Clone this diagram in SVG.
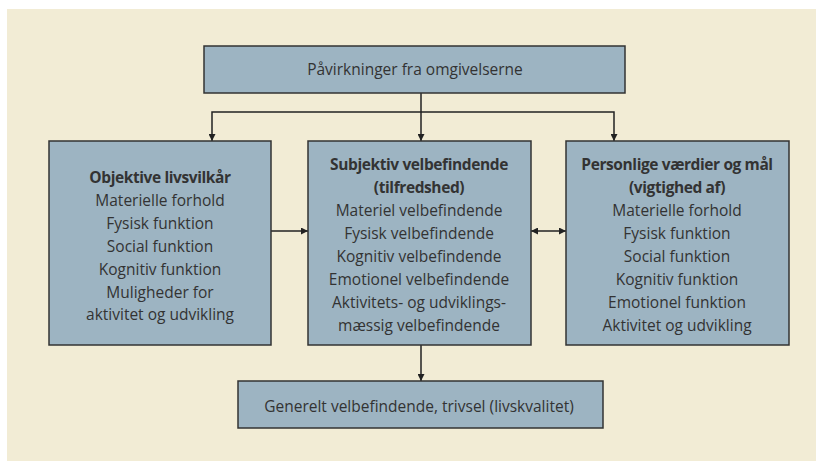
<svg xmlns="http://www.w3.org/2000/svg" width="816" height="461" viewBox="0 0 816 461">
<defs>
<style>
.box{fill:#9db4c2;stroke:#333;stroke-width:1.5}
.t{font-family:"Open Sans","Liberation Sans",sans-serif;font-size:15.5px;fill:#333;text-anchor:middle}
.b{font-weight:bold;letter-spacing:-0.4px}
.c{fill:none;stroke:#222;stroke-width:1.5}
</style>
<marker id="ah" viewBox="0 0 10 10" refX="10" refY="5" markerWidth="7" markerHeight="7" markerUnits="userSpaceOnUse" orient="auto-start-reverse">
<path d="M0,0 L10,5 L0,10 z" fill="#222"/>
</marker>
</defs>
<rect x="7" y="9" width="809" height="452" fill="#f2ecd5"/>
<g id="connectors">
<line class="c" x1="421" y1="93" x2="421" y2="141" marker-end="url(#ah)"/>
<polyline class="c" points="212,141 212,112 614,112 614,141" marker-start="url(#ah)" marker-end="url(#ah)"/>
<line class="c" x1="271" y1="231" x2="308" y2="231" marker-end="url(#ah)"/>
<line class="c" x1="531" y1="231" x2="566" y2="231" marker-start="url(#ah)" marker-end="url(#ah)"/>
<line class="c" x1="421" y1="345" x2="421" y2="381" marker-end="url(#ah)"/>
</g>
<g id="top">
<rect class="box" x="204" y="46" width="421" height="47"/>
<text class="t" x="415" y="75">Påvirkninger fra omgivelserne</text>
</g>
<g id="objektive">
<rect class="box" x="49" y="141" width="222" height="204"/>
<text class="t" x="160" y="183"><tspan class="b">Objektive livsvilkår</tspan><tspan x="160" dy="23">Materielle forhold</tspan><tspan x="160" dy="23">Fysisk funktion</tspan><tspan x="160" dy="23">Social funktion</tspan><tspan x="160" dy="23">Kognitiv funktion</tspan><tspan x="160" dy="23">Muligheder for</tspan><tspan x="160" dy="22">aktivitet og udvikling</tspan></text>
</g>
<g id="subjektiv">
<rect class="box" x="308" y="141" width="223" height="204"/>
<text class="t" x="419" y="170"><tspan class="b">Subjektiv velbefindende</tspan><tspan class="b" x="419" dy="23">(tilfredshed)</tspan><tspan x="419" dy="23">Materiel velbefindende</tspan><tspan x="419" dy="23">Fysisk velbefindende</tspan><tspan x="419" dy="23">Kognitiv velbefindende</tspan><tspan x="419" dy="23">Emotionel velbefindende</tspan><tspan x="419" dy="23">Aktivitets- og udviklings-</tspan><tspan x="419" dy="23">mæssig velbefindende</tspan></text>
</g>
<g id="personlige">
<rect class="box" x="566" y="141" width="223" height="204"/>
<text class="t" x="677" y="170"><tspan class="b">Personlige værdier og mål</tspan><tspan class="b" x="677" dy="23">(vigtighed af)</tspan><tspan x="677" dy="23">Materielle forhold</tspan><tspan x="677" dy="23">Fysisk funktion</tspan><tspan x="677" dy="23">Social funktion</tspan><tspan x="677" dy="23">Kognitiv funktion</tspan><tspan x="677" dy="23">Emotionel funktion</tspan><tspan x="677" dy="23">Aktivitet og udvikling</tspan></text>
</g>
<g id="generelt">
<rect class="box" x="238" y="381" width="365" height="47"/>
<text class="t" x="419" y="412">Generelt velbefindende, trivsel (livskvalitet)</text>
</g>
</svg>
